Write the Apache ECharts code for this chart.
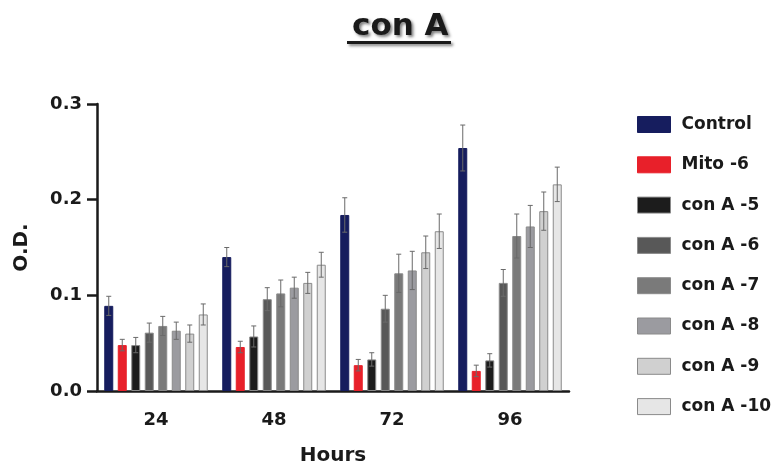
<!DOCTYPE html>
<html>
<head>
<meta charset="utf-8">
<script src="https://cdn.jsdelivr.net/npm/echarts@6/dist/echarts.min.js"></script>
<style>html,body{margin:0;padding:0;background:#fff;}#c{width:780px;height:468px;}</style>
</head>
<body>
<div id="c"></div>
<script>
const categories = ['24', '48', '72', '96'];
const seriesNames = ['Control', 'Mito -6', 'con A -5', 'con A -6', 'con A -7', 'con A -8', 'con A -9', 'con A -10'];
const control   = [0.089, 0.140, 0.184, 0.254];
const mito6     = [0.048, 0.046, 0.027, 0.021];
const conA5     = [0.048, 0.057, 0.033, 0.032];
const conA6     = [0.061, 0.096, 0.086, 0.113];
const conA7     = [0.068, 0.102, 0.123, 0.162];
const conA8     = [0.063, 0.108, 0.126, 0.172];
const conA9     = [0.060, 0.113, 0.145, 0.188];
const conA10    = [0.080, 0.132, 0.167, 0.216];
const controlErr = [0.010, 0.010, 0.018, 0.024];
const mito6Err   = [0.006, 0.006, 0.006, 0.006];
const conA5Err   = [0.008, 0.011, 0.007, 0.007];
const conA6Err   = [0.010, 0.012, 0.014, 0.014];
const conA7Err   = [0.010, 0.014, 0.020, 0.023];
const conA8Err   = [0.009, 0.011, 0.020, 0.022];
const conA9Err   = [0.009, 0.011, 0.017, 0.020];
const conA10Err  = [0.011, 0.013, 0.018, 0.018];
const yTicks = [0, 0.1, 0.2, 0.3];

const values = [control, mito6, conA5, conA6, conA7, conA8, conA9, conA10];
const errors = [controlErr, mito6Err, conA5Err, conA6Err, conA7Err, conA8Err, conA9Err, conA10Err];
const colors = ['#161d5e', '#e8202a', '#1c1c1c', '#585858', '#7a7a7a', '#9b9ba0', '#d0d0d0', '#e6e6e6'];

const FONT = '"DejaVu Sans", Verdana, sans-serif';
const BAR_W = 9;
const GAP = 0.5;
const pitch = BAR_W * (1 + GAP);
const n = seriesNames.length;

const barSeries = seriesNames.map((name, i) => ({
  name: name,
  type: 'bar',
  data: values[i],
  barWidth: BAR_W,
  barGap: (GAP * 100) + '%',
  itemStyle: { color: colors[i], borderColor: i < 2 ? colors[i] : '#8a8a8a', borderWidth: 1 },
  emphasis: { disabled: true }
}));

const errData = [];
values.forEach((arr, i) => arr.forEach((v, j) => errData.push([j, i, v, errors[i][j]])));

const errSeries = {
  type: 'custom',
  data: errData,
  z: 10,
  silent: true,
  encode: { x: 0, y: 2 },
  renderItem: function (params, api) {
    const cat = api.value(0), si = api.value(1), v = api.value(2), e = api.value(3);
    const top = api.coord([cat, v + e]);
    const bot = api.coord([cat, v - e]);
    const x = top[0] + (si - (n - 1) / 2) * pitch;
    const cap = 2.5;
    const st = { stroke: '#6a6a6a', lineWidth: 1 };
    return {
      type: 'group',
      children: [
        { type: 'line', shape: { x1: x, y1: top[1], x2: x, y2: bot[1] }, style: st },
        { type: 'line', shape: { x1: x - cap, y1: top[1], x2: x + cap, y2: top[1] }, style: st },
        { type: 'line', shape: { x1: x - cap, y1: bot[1], x2: x + cap, y2: bot[1] }, style: st }
      ]
    };
  }
};

const chart = echarts.init(document.getElementById('c'), null, { renderer: 'canvas' });
chart.setOption({
  animation: false,
  backgroundColor: '#fff',
  title: {
    text: 'con A',
    left: 347, top: 6,
    textStyle: {
      fontFamily: FONT, fontWeight: 'bold', fontSize: 31, color: '#1a1a1a',
      textShadowColor: 'rgba(0,0,0,0.5)', textShadowBlur: 3, textShadowOffsetX: 2, textShadowOffsetY: 2
    }
  },
  graphic: [{
    type: 'rect', left: 347, top: 41, shape: { width: 104, height: 3 },
    style: { fill: '#1a1a1a', shadowColor: 'rgba(0,0,0,0.5)', shadowBlur: 3, shadowOffsetX: 2, shadowOffsetY: 2 }
  }],
  legend: {
    orient: 'vertical',
    left: 637, top: 116,
    padding: 0,
    itemWidth: 33, itemHeight: 16, itemGap: 23.3,
    icon: 'rect',
    data: seriesNames,
    itemStyle: { borderWidth: 1 },
    textStyle: { fontFamily: FONT, fontWeight: 'bold', fontSize: 17, color: '#1a1a1a', padding: [0, 0, 0, 6] }
  },
  grid: { left: 97, right: 211, top: 104, bottom: 77, containLabel: false, outerBoundsMode: 'none' },
  xAxis: {
    type: 'category',
    data: categories,
    name: 'Hours',
    nameLocation: 'middle',
    nameGap: 55,
    nameTextStyle: { fontFamily: FONT, fontWeight: 'bold', fontSize: 20, color: '#1a1a1a' },
    axisLine: { lineStyle: { color: '#1a1a1a', width: 2.5 } },
    axisTick: { alignWithLabel: true, length: 9, lineStyle: { color: '#1a1a1a', width: 2.5 } },
    axisLabel: { fontFamily: FONT, fontWeight: 'bold', fontSize: 18, color: '#1a1a1a', margin: 20 }
  },
  yAxis: {
    type: 'value',
    min: yTicks[0], max: yTicks[yTicks.length - 1], interval: 0.1,
    name: 'O.D.',
    nameLocation: 'middle',
    nameGap: 65,
    nameTextStyle: { fontFamily: FONT, fontWeight: 'bold', fontSize: 20, color: '#1a1a1a' },
    axisLine: { show: true, lineStyle: { color: '#1a1a1a', width: 2.5 } },
    axisTick: { show: true, inside: false, length: 10, lineStyle: { color: '#1a1a1a', width: 2.5 } },
    splitLine: { show: false },
    axisLabel: { fontFamily: FONT, fontWeight: 'bold', fontSize: 18, color: '#1a1a1a', margin: 15, formatter: v => v.toFixed(1) }
  },
  series: barSeries.concat([errSeries])
});
</script>
</body>
</html>
